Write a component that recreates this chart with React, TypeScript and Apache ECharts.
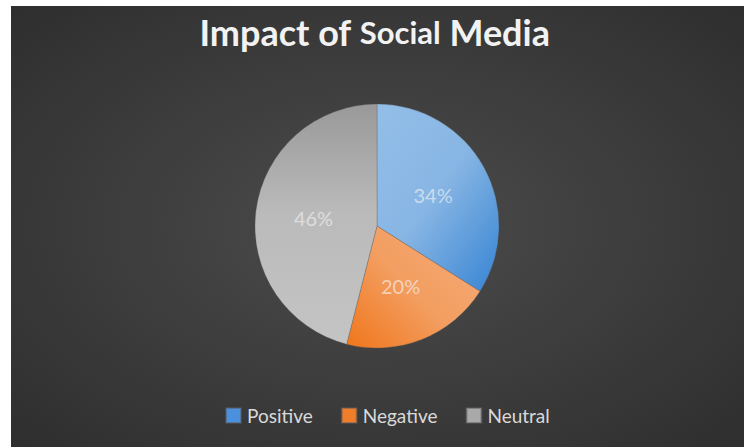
import React, { useEffect, useRef } from "react";
import * as echarts from "echarts";

const categories = ["Positive", "Negative", "Neutral"];
const values = [34, 20, 46];
const titleParts = ["Impact of ", "Social", " Media"];

const sliceColors = [
  { type: "linear", x: 0, y: 0, x2: 0.9, y2: 1, colorStops: [
    { offset: 0, color: "#92bee8" },
    { offset: 0.5, color: "#88b6e4" },
    { offset: 1, color: "#3d88d4" },
  ] },
  { type: "linear", x: 0.1, y: 1, x2: 1, y2: 0.2, colorStops: [
    { offset: 0, color: "#f07a22" },
    { offset: 0.5, color: "#f39e61" },
    { offset: 1, color: "#f4a874" },
  ] },
  { type: "linear", x: 0, y: 0, x2: 0, y2: 1, colorStops: [
    { offset: 0, color: "#999999" },
    { offset: 0.45, color: "#bababa" },
    { offset: 1, color: "#c4c4c4" },
  ] },
];
const legendColors = ["#4a90dc", "#f07d2a", "#a9a9a9"];

export default function App() {
  const ref = useRef<HTMLDivElement>(null);
  useEffect(() => {
    if (!ref.current) return;
    const chart = echarts.init(ref.current, undefined, { renderer: "svg" });
    const font = "Lato, 'Open Sans', sans-serif";
    chart.setOption({
      animation: false,
      backgroundColor: "#ffffff",
      title: {
        left: "center",
        top: 9,
        text:
          "{a|" + titleParts[0] + "}{b|" + titleParts[1] + "}{a|" + titleParts[2] + "}",
        textStyle: {
          rich: {
            a: { fontFamily: font, fontSize: 36, color: "#f2f2f2", fontWeight: "bold" },
            b: { fontFamily: font, fontSize: 31, color: "#f2f2f2", fontWeight: "bold" },
          },
        },
      },
      graphic: [
        {
          type: "rect",
          z: -10,
          silent: true,
          shape: { x: 11, y: 6, width: 733, height: 441 },
          style: {
            fill: {
              type: "radial", x: 0.5, y: 0.5, r: 0.9,
              colorStops: [
                { offset: 0, color: "#4c4c4c" },
                { offset: 1, color: "#262626" },
              ],
            },
          },
        },
      ],
      legend: {
        bottom: 18,
        left: 220,
        itemWidth: 15,
        itemHeight: 15,
        itemGap: 28,
        icon: "rect",
        textStyle: { color: "#d9d9d9", fontFamily: font, fontSize: 19, padding: [0, 0, 0, 1] },
        data: categories.map((c, i) => ({ name: c, itemStyle: { color: legendColors[i] } })),
      },
      series: [
        {
          type: "pie",
          center: [377, 226],
          radius: 122,
          startAngle: 90,
          clockwise: true,
          label: {
            position: "inside",
            formatter: "{d}%",
            color: "rgba(245,245,245,0.62)",
            fontFamily: font,
            fontSize: 20,
          },
          labelLine: { show: false },
          itemStyle: { borderColor: "rgba(90,90,90,0.5)", borderWidth: 0.6 },
          emphasis: { disabled: true },
          data: categories.map((c, i) => ({
            name: c,
            value: values[i],
            itemStyle: { color: sliceColors[i] },
          })),
        },
      ],
    });
    return () => chart.dispose();
  }, []);
  return (
    <div
      ref={ref}
      style={{ position: "absolute", left: 0, top: 0, width: 749, height: 448 }}
    />
  );
}
